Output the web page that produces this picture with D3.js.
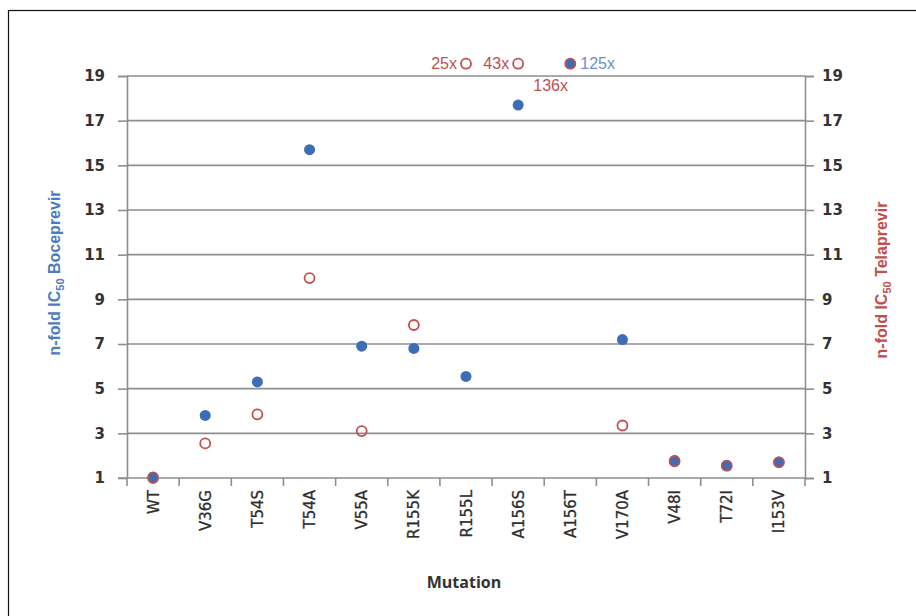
<!DOCTYPE html>
<html lang="en">
<head>
    <meta charset="UTF-8">
    <title>n-fold IC50 Boceprevir / Telaprevir</title>
    <script src="https://cdn.jsdelivr.net/npm/d3@7/dist/d3.min.js"></script>
    <style>
        body { margin: 0; background: #fff; }
        svg { display: block; }
    </style>
</head>
<body>
    <div id="chart"></div>

    <script>
        // data
        const mutations = ["WT", "V36G", "T54S", "T54A", "V55A", "R155K", "R155L", "A156S", "A156T", "V170A", "V48I", "T72I", "I153V"];
        const boceprevir = [1.05, 3.8, 5.3, 15.7, 6.9, 6.8, 5.55, 17.7, 125, 7.2, 1.78, 1.55, 1.72];
        const telaprevir = [1.0, 2.55, 3.85, 9.95, 3.1, 7.85, 25, 43, 136, 3.35, 1.75, 1.55, 1.7];
        const yTicks = [1, 3, 5, 7, 9, 11, 13, 15, 17, 19];
        const yMax = 19;      // values above this are drawn above the plot with a label
        const offValue = 19.55;

        const blue = "#3d6db4";
        const red = "#c0504d";
        const grid = "#8e8e8e";

        const width = 916, height = 616;
        const margin = {top: 76, right: 111, bottom: 138, left: 127};
        const innerWidth = width - margin.left - margin.right;
        const innerHeight = height - margin.top - margin.bottom;

        const svg = d3.select("#chart").append("svg")
            .attr("width", width).attr("height", height);

        // outer frame (runs off the right/bottom of the picture)
        svg.append("rect")
            .attr("x", 8.5).attr("y", 10.5)
            .attr("width", 940).attr("height", 640)
            .attr("fill", "none").attr("stroke", "#111").attr("stroke-width", 1.2);

        const g = svg.append("g").attr("transform", `translate(${margin.left},${margin.top})`);

        const x = d3.scaleBand().domain(mutations).range([0, innerWidth]);
        const y = d3.scaleLinear().domain([1, 19]).range([innerHeight, 0]);
        const yPlot = v => y(v > yMax ? offValue : v);

        // gridlines
        g.append("g").selectAll("line")
            .data(yTicks.filter(d => d !== 1))
            .join("line")
            .attr("x1", 0).attr("x2", innerWidth)
            .attr("y1", d => y(d)).attr("y2", d => y(d))
            .attr("stroke", grid).attr("stroke-width", 1.6);

        // left axis
        const yLeft = g.append("g")
            .call(d3.axisLeft(y).tickValues(yTicks).tickSize(9).tickPadding(13).tickFormat(d3.format("d")));
        // right axis
        const yRight = g.append("g")
            .attr("transform", `translate(${innerWidth},0)`)
            .call(d3.axisRight(y).tickValues(yTicks).tickSize(9).tickPadding(8).tickFormat(d3.format("d")));
        [yLeft, yRight].forEach(ax => {
            ax.select(".domain").attr("stroke", grid).attr("stroke-width", 1.6);
            ax.selectAll(".tick line").attr("stroke", grid).attr("stroke-width", 1.6);
            ax.selectAll(".tick text")
                .attr("fill", "#333")
                .attr("font-family", "DejaVu Sans, Verdana, sans-serif")
                .attr("font-weight", "bold")
                .attr("font-size", "15px");
        });
        yLeft.select(".domain").attr("d", `M-9,0.5H0.5V${innerHeight}`);

        // bottom axis: ticks at category boundaries
        const xAxis = g.append("g").attr("transform", `translate(0,${innerHeight})`);
        xAxis.append("line")
            .attr("x1", -9).attr("x2", innerWidth)
            .attr("stroke", grid).attr("stroke-width", 1.6);
        xAxis.selectAll(".bound")
            .data(mutations.concat([null]))
            .join("line")
            .attr("class", "bound")
            .attr("x1", (d, i) => x.step() * i).attr("x2", (d, i) => x.step() * i)
            .attr("y1", 0).attr("y2", 8)
            .attr("stroke", grid).attr("stroke-width", 1.6);
        xAxis.selectAll(".lab")
            .data(mutations)
            .join("text")
            .attr("class", "lab")
            .attr("transform", d => `translate(${x(d) + x.bandwidth() / 2 + 5.5},12) rotate(-90)`)
            .attr("text-anchor", "end")
            .attr("fill", "#2e2e2e")
            .attr("stroke", "#2e2e2e").attr("stroke-width", 0.3)
            .attr("font-family", "DejaVu Sans, Verdana, sans-serif")
            .attr("font-size", "15px")
            .text(d => d);

        // axis titles
        svg.append("text")
            .attr("x", margin.left + innerWidth / 2 - 2).attr("y", 588)
            .attr("text-anchor", "middle")
            .attr("fill", "#333")
            .attr("font-family", "Open Sans, sans-serif")
            .attr("font-weight", "bold")
            .attr("font-size", "16px")
            .text("Mutation");

        function sideTitle(cx, cy, color, name) {
            const t = svg.append("text")
                .attr("transform", `translate(${cx},${cy}) rotate(-90)`)
                .attr("text-anchor", "middle")
                .attr("fill", color)
                .attr("font-family", "Liberation Sans, Arial, sans-serif")
                .attr("font-weight", "bold")
                .attr("font-size", "16px");
            t.append("tspan").text("n-fold IC");
            t.append("tspan").attr("font-size", "11px").attr("dy", 4).text("50");
            t.append("tspan").attr("dy", -4).text(" " + name);
        }
        sideTitle(60, 273, "#4a7cc1", "Boceprevir");
        sideTitle(887, 280, red, "Telaprevir");

        // points
        const cx = d => x(d) + x.bandwidth() / 2;
        g.append("g").selectAll("circle")
            .data(mutations)
            .join("circle")
            .attr("cx", cx)
            .attr("cy", (d, i) => yPlot(boceprevir[i]))
            .attr("r", 5.5)
            .attr("fill", blue);
        g.append("g").selectAll("circle")
            .data(mutations)
            .join("circle")
            .attr("cx", cx)
            .attr("cy", (d, i) => yPlot(telaprevir[i]))
            .attr("r", 5)
            .attr("fill", "none")
            .attr("stroke", red)
            .attr("stroke-width", 1.8);

        // labels for values above the axis
        const offLabels = [];
        mutations.forEach((m, i) => {
            if (telaprevir[i] > yMax) offLabels.push({m, v: telaprevir[i], color: red, both: boceprevir[i] > yMax});
            if (boceprevir[i] > yMax) offLabels.push({m, v: boceprevir[i], color: blue, blue: true});
        });
        g.append("g").selectAll("text")
            .data(offLabels)
            .join("text")
            .attr("x", d => d.blue ? cx(d.m) + 10 : (d.both ? cx(d.m) - 37 : cx(d.m) - 9))
            .attr("y", d => d.both ? yPlot(d.v) + 27 : yPlot(d.v) + 5)
            .attr("text-anchor", d => d.blue || d.both ? "start" : "end")
            .attr("fill", d => d.blue ? "#6f8fc6" : red)
            .attr("font-family", "Liberation Sans, Arial, sans-serif")
            .attr("font-size", "16px")
            .text(d => d.v + "x");
    </script>
</body>
</html>
